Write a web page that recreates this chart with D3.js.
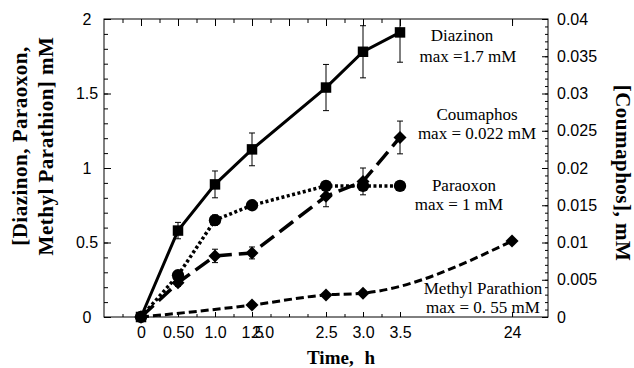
<!DOCTYPE html>
<html>
<head>
<meta charset="utf-8">
<script src="https://cdn.jsdelivr.net/npm/d3@7"></script>
<style>
  body { margin: 0; background: #fff; }
  #chart { width: 634px; height: 368px; }
  .tick text { font-family: "Liberation Sans", Arial, sans-serif; font-size: 16px; fill: #000; }
  .label { font-family: "Liberation Serif", "Times New Roman", serif; font-size: 17px; fill: #000; }
  .title { font-family: "Liberation Serif", "Times New Roman", serif; font-weight: bold; fill: #000; }
</style>
</head>
<body>
<div id="chart"></div>
<script>
// time points (h) shared by Diazinon, Paraoxon, Coumaphos
const times = [0, 0.5, 1.0, 1.5, 2.5, 3.0, 3.5];
const diazinon = [0, 0.58, 0.89, 1.125, 1.54, 1.78, 1.91];
const diazinonErr = [0, 0.055, 0.09, 0.11, 0.155, 0.175, 0.2];
const paraoxon = [0, 0.28, 0.65, 0.75, 0.88, 0.88, 0.88];
const paraoxonErr = [0, 0.02, 0.035, 0.02, 0.03, 0.03, 0.02];
// coumaphos is read on the right axis
const coumaphos = [0, 0.0046, 0.0082, 0.0086, 0.0162, 0.0182, 0.0241];
const coumaphosErr = [0, 0.0005, 0.0009, 0.0008, 0.0014, 0.0018, 0.0022];
// methyl parathion has its own time points
const mpTimes = [0, 1.5, 2.5, 3.0, 24];
const methylParathion = [0, 0.08, 0.148, 0.16, 0.51];

const xTickValues = [0, 0.5, 1.0, 1.5, 2.5, 3.0, 3.5, 24];
const xTickLabels = ["0", "0.50", "1.0", "1.5", "2.5", "3.0", "3.5", "24"];
const yLeftTicks = [0, 0.5, 1, 1.5, 2];
const yRightTicks = [0, 0.005, 0.01, 0.015, 0.02, 0.025, 0.03, 0.035, 0.04];

const width = 634, height = 368;
const margin = {top: 19, right: 86, bottom: 51, left: 104};
const mwidth = width - margin.left - margin.right;
const mheight = height - margin.top - margin.bottom;

const svg = d3.select("#chart").append("svg")
    .attr("width", width)
    .attr("height", height);

// piecewise time axis: linear up to 3.5 h, then a jump to 24 h
const xScale = d3.scaleLinear()
    .domain([-0.5, 3.5, 24, 25.6])
    .range([0, mwidth * 0.6667, mwidth * 0.919, mwidth]);
const yLeft = d3.scaleLinear().domain([0, 2]).range([mheight, 0]);
const yRight = d3.scaleLinear().domain([0, 0.04]).range([mheight, 0]);

const g = svg.append("g")
    .attr("transform", "translate(" + margin.left + "," + margin.top + ")");

g.append("clipPath").attr("id", "clip")
  .append("rect").attr("width", mwidth).attr("height", mheight);

// minor/major tick sets
const quarterTicks = d3.range(-0.25, 3.51, 0.25).concat([24]);
const halfTicks = quarterTicks.filter(d => Math.abs(d * 2 - Math.round(d * 2)) < 1e-6);

function cleanAxis(sel) {
    sel.select(".domain").remove();
    sel.selectAll(".tick line").attr("stroke", "#000").attr("stroke-width", 1);
}

// left axis
g.append("g")
    .call(d3.axisLeft(yLeft).tickValues(d3.range(0, 2.001, 0.1)).tickSize(-4).tickFormat(""))
    .call(cleanAxis);
g.append("g")
    .call(d3.axisLeft(yLeft).tickValues(yLeftTicks).tickSize(-7).tickFormat(d => String(d)))
    .call(cleanAxis)
    .call(a => a.selectAll(".tick text").attr("x", -17).attr("text-anchor", "middle"));

// right axis
const right = g.append("g").attr("transform", "translate(" + mwidth + ",0)");
right.append("g")
    .call(d3.axisRight(yRight).tickValues(d3.range(0, 0.04001, 0.001)).tickSize(-3).tickFormat(""))
    .call(cleanAxis);
right.append("g")
    .call(d3.axisRight(yRight).tickValues(yRightTicks).tickSize(-6).tickPadding(9)
          .tickFormat(d => String(+d.toFixed(3))))
    .call(cleanAxis);

// top axis
g.append("g")
    .call(d3.axisTop(xScale).tickValues(quarterTicks).tickSize(-4).tickFormat(""))
    .call(cleanAxis);
g.append("g")
    .call(d3.axisTop(xScale).tickValues(halfTicks).tickSize(-7).tickFormat(""))
    .call(cleanAxis);

// bottom axis
const bottom = g.append("g").attr("transform", "translate(0," + mheight + ")");
bottom.append("g")
    .call(d3.axisBottom(xScale).tickValues(quarterTicks).tickSize(-3).tickFormat(""))
    .call(cleanAxis);
bottom.append("g")
    .call(d3.axisBottom(xScale).tickValues(xTickValues).tickSize(-5).tickPadding(10)
          .tickFormat((d, i) => xTickLabels[i]))
    .call(cleanAxis);
// the original prints "2.0" on top of "1.5"
bottom.append("text")
    .attr("class", "tick")
    .attr("x", xScale(1.5) + 11)
    .attr("y", 10)
    .attr("dy", "0.71em")
    .attr("text-anchor", "middle")
    .style("font-family", "Liberation Sans, Arial, sans-serif")
    .style("font-size", "16px")
    .text("2.0");

// frame
g.append("rect")
    .attr("width", mwidth).attr("height", mheight)
    .attr("fill", "none").attr("stroke", "#000").attr("stroke-width", 1);

// series
const series = [
    {name: "Diazinon", t: times, v: diazinon, e: diazinonErr, y: yLeft,
     dash: null, sw: 3, shape: "square", curve: d3.curveLinear},
    {name: "Paraoxon", t: times, v: paraoxon, e: paraoxonErr, y: yLeft,
     dash: "3,2.5", sw: 3.5, shape: "circle", curve: d3.curveLinear},
    {name: "Coumaphos", t: times, v: coumaphos, e: coumaphosErr, y: yRight,
     dash: "17,7", sw: 3.5, shape: "diamond", curve: d3.curveLinear},
    {name: "Methyl Parathion", t: mpTimes, v: methylParathion, e: null, y: yLeft,
     dash: "8,4", sw: 3, shape: "diamond", curve: d3.curveMonotoneX}
];

const symbols = {
    square: d3.symbol().type(d3.symbolSquare).size(110),
    circle: d3.symbol().type(d3.symbolCircle).size(120),
    diamond: d3.symbol().type(d3.symbolSquare).size(85)
};

series.forEach(s => {
    const pts = s.t.map((t, i) => ({t: t, v: s.v[i], e: s.e ? s.e[i] : 0}));
    const line = d3.line()
        .x(d => xScale(d.t))
        .y(d => s.y(d.v))
        .curve(s.curve);

    g.append("path")
        .datum(pts)
        .attr("d", line)
        .attr("fill", "none")
        .attr("stroke", "#000")
        .attr("stroke-width", s.sw)
        .attr("stroke-dasharray", s.dash);

    // error bars
    const eb = g.append("g").attr("clip-path", "url(#clip)")
        .selectAll("g").data(pts.filter(d => d.e > 0)).enter().append("g");
    eb.append("line")
        .attr("x1", d => xScale(d.t)).attr("x2", d => xScale(d.t))
        .attr("y1", d => s.y(d.v - d.e)).attr("y2", d => s.y(d.v + d.e))
        .attr("stroke", "#000").attr("stroke-width", 1);
    eb.selectAll(".cap").data(d => [d.v - d.e, d.v + d.e].map(v => ({t: d.t, v: v})))
        .enter().append("line")
        .attr("x1", d => xScale(d.t) - 3).attr("x2", d => xScale(d.t) + 3)
        .attr("y1", d => s.y(d.v)).attr("y2", d => s.y(d.v))
        .attr("stroke", "#000").attr("stroke-width", 1);

    g.selectAll(null).data(pts).enter().append("path")
        .attr("d", symbols[s.shape])
        .attr("transform", d => "translate(" + xScale(d.t) + "," + s.y(d.v) + ")" +
              (s.shape === "diamond" ? " rotate(45)" : ""))
        .attr("fill", "#000");
});

// in-plot labels
const notes = [
    ["Diazinon", 462, 41], ["max =1.7 mM", 468, 62],
    ["Coumaphos", 477, 120], ["max = 0.022 mM", 477, 139],
    ["Paraoxon", 464, 191], ["max = 1 mM", 459, 210],
    ["Methyl Parathion", 483, 294], ["max = 0. 55 mM", 483, 313]
];
svg.selectAll(".label").data(notes).enter().append("text")
    .attr("class", "label")
    .attr("x", d => d[1]).attr("y", d => d[2])
    .attr("text-anchor", "middle")
    .text(d => d[0]);

// axis titles
svg.append("text")
    .attr("class", "title")
    .attr("transform", "translate(" + (width / 2 + 24) + "," + (height - 4) + ")")
    .attr("text-anchor", "middle")
    .style("font-size", "19px")
    .style("word-spacing", "6px")
    .text("Time, h");

const leftTitle = svg.append("text")
    .attr("class", "title")
    .attr("transform", "translate(27,146) rotate(-90)")
    .attr("text-anchor", "middle")
    .style("font-size", "21px")
    .style("letter-spacing", "0.5px");
leftTitle.append("tspan").attr("x", 0).attr("y", 0).text("[Diazinon, Paraoxon,");
leftTitle.append("tspan").attr("x", 0).attr("y", 26).text("Methyl Parathion] mM");

svg.append("text")
    .attr("class", "title")
    .attr("transform", "translate(616,173) rotate(90)")
    .attr("text-anchor", "middle")
    .style("font-size", "21px")
    .style("letter-spacing", "0.5px")
    .text("[Coumaphos], mM");
</script>
</body>
</html>
